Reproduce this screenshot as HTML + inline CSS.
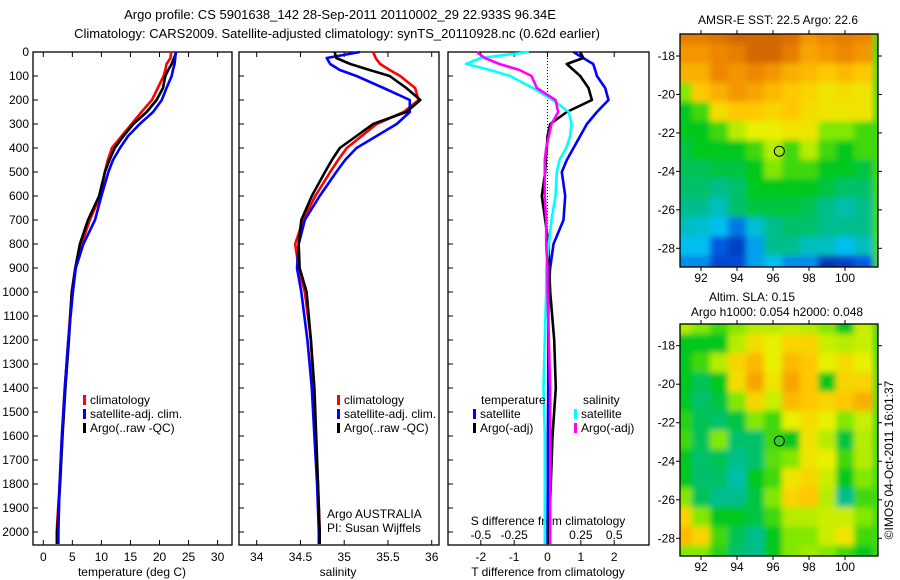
<!DOCTYPE html>
<html><head><meta charset="utf-8"><style>
html,body{margin:0;padding:0;background:#fff}
svg{display:block;font-family:"Liberation Sans",Arial,sans-serif}
</style></head><body>
<svg id="s" width="900" height="580" viewBox="0 0 900 580">
<defs>
<filter id="bl" x="0" y="0" width="1" height="1"><feGaussianBlur stdDeviation="3" edgeMode="duplicate"/></filter>
<clipPath id="c1"><rect x="680" y="34" width="198" height="233"/></clipPath>
<clipPath id="c2"><rect x="680" y="324" width="198" height="232"/></clipPath>
</defs>
<text x="340" y="19" font-size="13" text-anchor="middle">Argo profile: CS 5901638_142 28-Sep-2011 20110002_29 22.933S 96.34E</text>
<text x="337" y="38" font-size="13" text-anchor="middle">Climatology: CARS2009. Satellite-adjusted climatology: synTS_20110928.nc (0.62d earlier)</text>
</svg>
<script>
const depths=[0,25,50,75,100,150,200,250,300,350,400,450,500,600,700,800,900,1000,1200,1400,1600,1800,2000,2050];
const tempClim=[22.0,21.9,21.2,21.0,20.7,19.7,18.7,16.9,15.2,13.5,11.8,11.1,10.6,9.8,8.0,6.6,5.5,4.9,4.3,3.7,3.2,2.8,2.3,2.3];
const tempSat=[22.8,22.7,22.6,22.3,22.1,21.2,20.4,18.9,16.6,14.6,13.2,12.0,11.2,10.0,8.9,6.9,5.6,5.1,4.3,3.7,3.2,2.8,2.6,2.6];
const tempArgo=[22.9,22.5,22.1,21.5,21.0,20.6,19.5,17.8,15.5,13.8,12.3,11.4,10.6,9.6,7.7,6.3,5.5,4.9,4.4,3.8,3.3,2.9,2.4,2.4];
const salClim=[35.33,35.36,35.41,35.52,35.64,35.81,35.85,35.68,35.37,35.20,35.03,34.93,34.84,34.67,34.53,34.44,34.48,34.55,34.62,34.65,34.67,34.70,34.72,34.72];
const salSat=[35.18,34.80,34.84,34.95,35.14,35.45,35.75,35.75,35.60,35.37,35.14,35.01,34.91,34.72,34.55,34.48,34.46,34.51,34.58,34.63,34.66,34.69,34.71,34.71];
const salArgo=[34.89,34.91,35.07,35.29,35.52,35.71,35.87,35.71,35.33,35.14,34.95,34.86,34.78,34.63,34.51,34.48,34.49,34.57,34.62,34.66,34.68,34.70,34.72,34.72];
const dTempSat=[0.78,1.07,1.37,1.43,1.48,1.73,1.83,1.48,1.18,0.98,0.78,0.58,0.43,0.53,0.48,0.18,0.08,0.03,0.02,0.02,0.01,0.01,0.0,0.0];
const dTempArgo=[0.98,1.07,0.58,0.78,0.98,1.23,1.33,0.58,0.08,0.0,-0.02,-0.05,-0.07,-0.17,-0.07,0.03,0.05,0.08,0.2,0.25,0.15,0.1,0.05,0.05];
const dSalSat=[-0.14,-0.5,-0.61,-0.43,-0.28,-0.11,0.04,0.16,0.18,0.17,0.14,0.09,0.07,0.06,0.03,0.01,-0.01,-0.01,-0.02,-0.03,-0.02,-0.02,-0.02,-0.02];
const dSalArgo=[-0.53,-0.47,-0.36,-0.21,-0.12,-0.08,0.06,0.08,0.03,0.01,-0.01,-0.02,-0.02,-0.02,-0.01,-0.01,0.0,0.0,0.01,0.02,0.02,0.02,0.02,0.02];
const depthTicks=[0,100,200,300,400,500,600,700,800,900,1000,1100,1200,1300,1400,1500,1600,1700,1800,1900,2000];
const tempTicks=[0,5,10,15,20,25,30];
const salTicks=[34,34.5,35,35.5,36];
const dTTicks=[-2,-1,0,1,2];
const dSTicks=[-0.5,-0.25,0,0.25,0.5];
const lonTicks=[92,94,96,98,100];
const latTicks=[-18,-20,-22,-24,-26,-28];
const sstGrid=[
[0.9,0.9,0.92,0.95,0.95,0.95,0.93,0.85,0.88,0.9,0.88],
[0.85,0.85,0.88,0.9,0.95,0.95,0.9,0.82,0.85,0.88,0.85],
[0.8,0.8,0.88,0.85,0.88,0.85,0.8,0.78,0.75,0.78,0.75],
[0.55,0.75,0.8,0.85,0.82,0.78,0.75,0.72,0.68,0.7,0.68],
[0.45,0.5,0.7,0.75,0.75,0.72,0.75,0.7,0.68,0.68,0.68],
[0.45,0.45,0.5,0.6,0.65,0.65,0.68,0.68,0.55,0.55,0.5],
[0.42,0.45,0.45,0.45,0.5,0.6,0.5,0.6,0.5,0.45,0.5],
[0.4,0.4,0.42,0.42,0.45,0.55,0.5,0.5,0.45,0.45,0.42],
[0.38,0.38,0.35,0.38,0.45,0.45,0.45,0.45,0.42,0.38,0.38],
[0.35,0.35,0.3,0.38,0.42,0.42,0.42,0.4,0.35,0.32,0.35],
[0.3,0.28,0.25,0.18,0.28,0.35,0.38,0.38,0.35,0.35,0.35],
[0.25,0.25,0.15,0.1,0.22,0.35,0.35,0.3,0.3,0.25,0.3],
[0.2,0.2,0.12,0.12,0.22,0.25,0.2,0.2,0.08,0.1,0.15]];
const slaGrid=[
[0.6,0.55,0.5,0.55,0.6,0.6,0.62,0.6,0.55,0.45,0.62],
[0.45,0.45,0.45,0.6,0.7,0.65,0.72,0.72,0.62,0.6,0.62],
[0.45,0.5,0.6,0.72,0.78,0.65,0.78,0.75,0.65,0.7,0.65],
[0.45,0.4,0.45,0.7,0.82,0.68,0.82,0.75,0.45,0.72,0.72],
[0.45,0.38,0.42,0.55,0.72,0.62,0.78,0.75,0.72,0.75,0.8],
[0.48,0.4,0.38,0.42,0.55,0.5,0.65,0.7,0.65,0.55,0.62],
[0.5,0.4,0.55,0.38,0.38,0.5,0.45,0.68,0.6,0.42,0.6],
[0.45,0.38,0.4,0.35,0.38,0.52,0.55,0.68,0.65,0.5,0.6],
[0.45,0.38,0.38,0.32,0.45,0.5,0.68,0.72,0.62,0.45,0.55],
[0.55,0.4,0.35,0.35,0.42,0.55,0.72,0.75,0.6,0.35,0.5],
[0.72,0.55,0.45,0.45,0.42,0.5,0.6,0.6,0.62,0.62,0.55],
[0.78,0.72,0.5,0.4,0.35,0.45,0.55,0.55,0.62,0.68,0.5],
[0.55,0.55,0.48,0.38,0.35,0.45,0.55,0.58,0.55,0.5,0.45]];
const gridLon0=91, gridLat0=-16.9;
const argoLon=96.35, argoLat=-22.95;

const S=document.getElementById('s');const NS='http://www.w3.org/2000/svg';
function mk(t,a,p){const e=document.createElementNS(NS,t);for(const k in a)e.setAttribute(k,a[k]);(p||S).appendChild(e);return e;}
function tx(x,y,s,anchor,fs){const e=mk('text',{x:x,y:y,'font-size':fs||12,'text-anchor':anchor||'middle'});e.textContent=s;return e;}
const yD=d=>52+d*0.24;
const P1={l:33,r:232},P2={l:239,r:439},P3={l:448,r:649},TOP=52,BOT=545;
const xT=t=>43.3+5.81*t, xS=s=>256.7+87.5*(s-34), xdT=t=>547.5+33.35*t, xdS=s=>547.5+133.4*s;
[P1,P2,P3].forEach((p,i)=>{const r=mk('rect',{x:p.l,y:TOP,width:p.r-p.l,height:BOT-TOP,fill:'none',stroke:'#000','stroke-width':1.3});


depthTicks.forEach(d=>{mk('line',{x1:p.l,x2:p.l+5,y1:yD(d),y2:yD(d),stroke:'#000'});});});
depthTicks.forEach(d=>{const t=tx(29,yD(d)+4,String(d),'end');

});
function xticks(vals,fx,fmt,p,name){vals.forEach(v=>{const x=fx(v);mk('line',{x1:x,x2:x,y1:BOT,y2:BOT-5,stroke:'#000'});mk('line',{x1:x,x2:x,y1:TOP,y2:TOP+5,stroke:'#000'});
const t=tx(x,561,fmt(v));

});}
xticks(tempTicks,xT,String,P1,'temp-tick-label');
xticks(salTicks,xS,String,P2,'salinity-tick-label');
xticks(dTTicks,xdT,String,P3,'tdiff-tick-label');
dSTicks.forEach(v=>{const t=tx(xdS(v),539,String(v));

});
let t;
t=tx(132,576,'temperature (deg C)');
t=tx(338,576,'salinity');
t=tx(548,576,'T difference from climatology');
t=tx(548,525,'S difference from climatology');
const dz=mk('line',{x1:547.5,x2:547.5,y1:TOP,y2:BOT,stroke:'#000','stroke-dasharray':'1 2'});


function series(vals,fx,col,name){const pts=vals.map((v,i)=>fx(v).toFixed(1)+','+yD(depths[i]).toFixed(1)).join(' ');
const e=mk('polyline',{points:pts,fill:'none',stroke:col,'stroke-width':2.6,'stroke-linejoin':'round'});

}
series(tempClim,xT,'#f00','temp-climatology-line');
series(tempArgo,xT,'#000','temp-argo-line');
series(tempSat,xT,'#00f','temp-satellite-line');
series(salClim,xS,'#f00','sal-climatology-line');
series(salSat,xS,'#00f','sal-satellite-line');
series(salArgo,xS,'#000','sal-argo-line');
series(dTempSat,xdT,'#00f','tdiff-satellite-line');
series(dTempArgo,xdT,'#000','tdiff-argo-line');
series(dSalSat,xdS,'#0ff','sdiff-satellite-line');
series(dSalArgo,xdS,'#f0f','sdiff-argo-line');
function leg(x,y,col,label,name){mk('rect',{x:x,y:y-9,width:3,height:10,fill:col});
const e=tx(x+7,y,label,'start');

}
leg(83,404,'#f00','climatology','legend-climatology');leg(83,418,'#00f','satellite-adj. clim.','legend-satellite');leg(83,432,'#000','Argo(..raw -QC)','legend-argo');
leg(337,404,'#f00','climatology','legend2-climatology');leg(337,418,'#00f','satellite-adj. clim.','legend2-satellite');leg(337,432,'#000','Argo(..raw -QC)','legend2-argo');
t=tx(481,404,'temperature','start');
t=tx(583,404,'salinity','start');
leg(473,418,'#00f','satellite','legend-tdiff-satellite');leg(473,432,'#000','Argo(-adj)','legend-tdiff-argo');
leg(574,418,'#0ff','satellite','legend-sdiff-satellite');leg(574,432,'#f0f','Argo(-adj)','legend-sdiff-argo');
t=tx(327,518,'Argo AUSTRALIA','start');
t=tx(327,532,'PI: Susan Wijffels','start');
// maps
const stops=[[0,[0,20,140]],[0.15,[0,90,225]],[0.25,[0,190,240]],[0.35,[0,190,140]],[0.45,[0,200,30]],[0.55,[130,232,0]],[0.65,[232,240,0]],[0.75,[255,200,0]],[0.87,[240,140,0]],[1,[195,80,0]]];
function cmap(v){for(let i=1;i<stops.length;i++){if(v<=stops[i][0]){const a=stops[i-1],b=stops[i],f=(v-a[0])/(b[0]-a[0]);return 'rgb('+a[1].map((c,j)=>Math.round(c+f*(b[1][j]-c))).join(',')+')';}}return 'rgb(195,80,0)';}
function drawMap(grid,m,clip,name){
const xL=lon=>701+18*(lon-92), yL=lat=>m.y18+m.sy*(-18-lat);
const g=mk('g',{'clip-path':'url(#'+clip+')'});
const gi=mk('g',{filter:'url(#bl)'},g);
mk('rect',{x:670,y:m.top-10,width:220,height:m.bot-m.top+20,fill:cmap(0.5)},gi);
grid.forEach((row,r)=>row.forEach((v,c)=>{const x0=xL(gridLon0+c)-9,y0=yL(gridLat0-r)-10;
const e=mk('rect',{x:x0.toFixed(1),y:y0.toFixed(1),width:19,height:m.sy+1,fill:cmap(v)},gi);

}));
mk('rect',{x:680,y:m.top,width:198,height:m.bot-m.top,fill:'none',stroke:'#000','stroke-width':1.3});
lonTicks.forEach(l=>{mk('line',{x1:xL(l),x2:xL(l),y1:m.bot,y2:m.bot+4,stroke:'#000'});mk('line',{x1:xL(l),x2:xL(l),y1:m.top,y2:m.top-4,stroke:'#000'});
const e=tx(xL(l),m.bot+15,String(l));});
latTicks.forEach(l=>{mk('line',{x1:676,x2:680,y1:yL(l),y2:yL(l),stroke:'#000'});mk('line',{x1:878,x2:882,y1:yL(l),y2:yL(l),stroke:'#000'});
const e=tx(675,yL(l)+4,String(l),'end');});
const c=mk('circle',{cx:xL(argoLon),cy:yL(argoLat),r:5,fill:m.dot,stroke:'#000','stroke-width':1});

}
drawMap(sstGrid,{top:34,bot:267,y18:56,sy:19.23,dot:'#9be81a'},'c1','sst-map');
drawMap(slaGrid,{top:324,bot:556,y18:345.7,sy:19.26,dot:'#2ed22a'},'c2','sla-map');
t=tx(778,24,'AMSR-E SST: 22.5 Argo: 22.6');
t=tx(752,301,'Altim. SLA: 0.15');
t=tx(777,316,'Argo h1000: 0.054 h2000: 0.048');
t=tx(0,0,'©IMOS 04-Oct-2011 16:01:37');t.setAttribute('transform','translate(893,460) rotate(-90)');
</script>
</body></html>
